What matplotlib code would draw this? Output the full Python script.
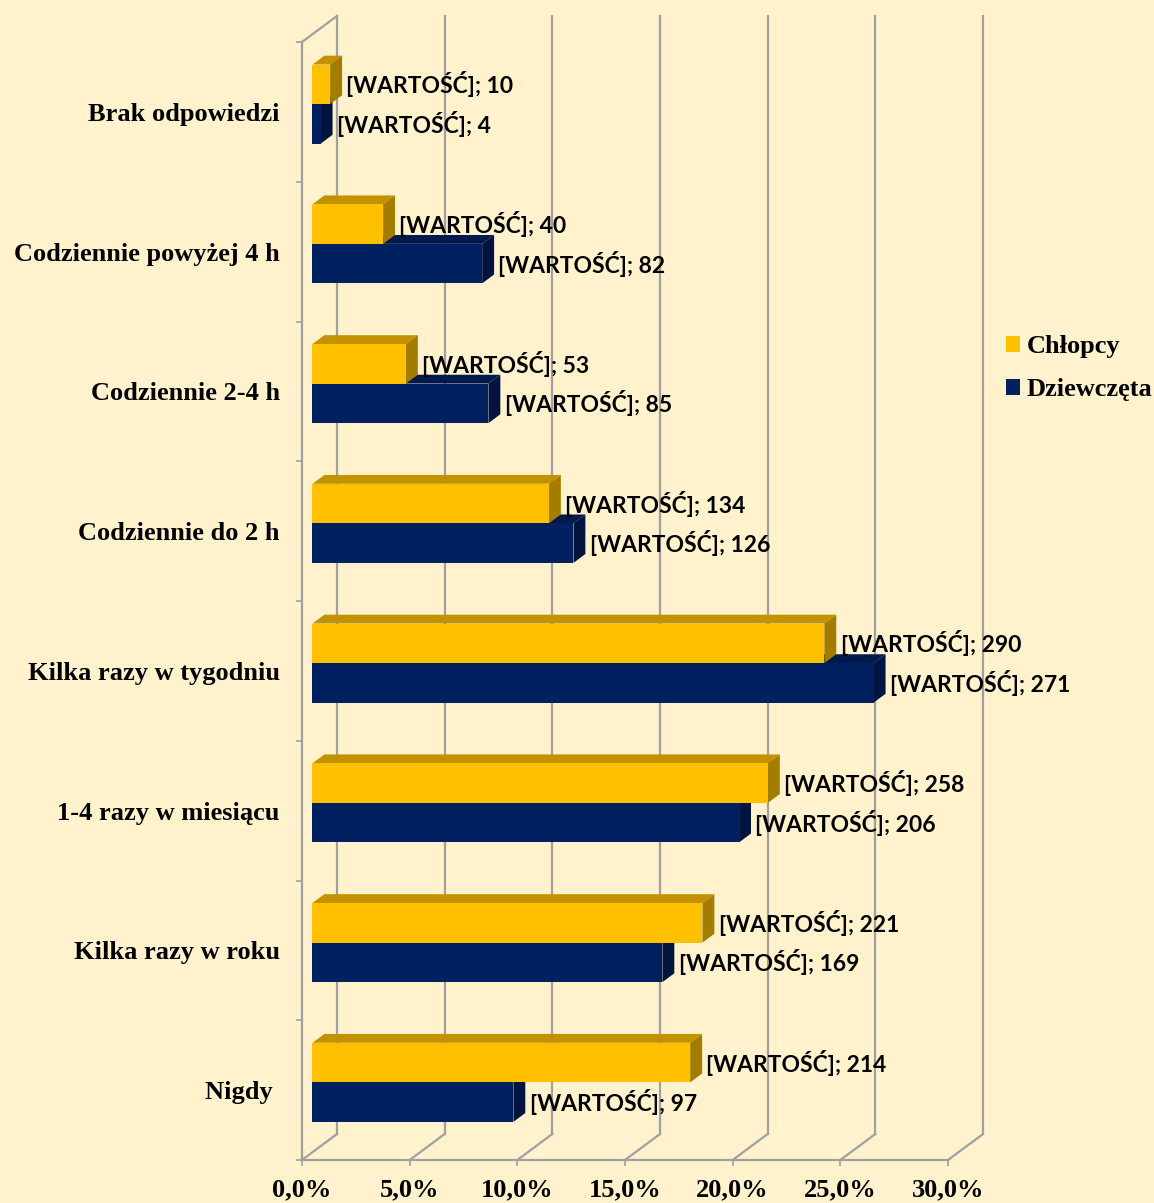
import numpy as np
import matplotlib
matplotlib.use('Agg')
import matplotlib.pyplot as plt
from matplotlib.patches import Polygon, Patch

# data (top to bottom as in the chart)
categories = ['Brak odpowiedzi', 'Codziennie powyżej 4 h', 'Codziennie 2-4 h',
              'Codziennie do 2 h', 'Kilka razy w tygodniu', '1-4 razy w miesiącu',
              'Kilka razy w roku', 'Nigdy ']
boys_pct = [0.82, 3.28, 4.34, 10.98, 23.77, 21.15, 18.11, 17.54]
girls_pct = [0.38, 7.88, 8.17, 12.12, 26.06, 19.81, 16.25, 9.33]
boys_n = [10, 40, 53, 134, 290, 258, 221, 214]
girls_n = [4, 82, 85, 126, 271, 206, 169, 97]
xticks = [0, 5, 10, 15, 20, 25, 30]
xticklabels = ['0,0%', '5,0%', '10,0%', '15,0%', '20,0%', '25,0%', '30,0%']

bg = '#FFF2CC'
grid_c = '#A0A0A0'
yel = ('#FFC000', '#C39200', '#A47C00')   # front, top, side
nav = ('#002060', '#001A50', '#001440')

# oblique depth offset (data units) and bar depth range
DX, DY = 1.625, 0.186
d0, d1 = 0.30, 0.64
h = 0.283

def proj(v, y, d):
    return (v + d * DX, y + d * DY)

fig = plt.figure(figsize=(11.54, 12.03), dpi=100, facecolor=bg)
ax = fig.add_axes([302/1154, 1 - 1160/1203, 646/1154, 1118/1203])
ax.set_facecolor('none')
n = len(categories)
ax.set_xlim(0, 30)
ax.set_ylim(-0.5, n - 0.5)

# back wall gridlines and floor diagonals
for v in xticks:
    x0, y0 = proj(v, -0.5, 1)
    x1, y1 = proj(v, n - 0.5, 1)
    ax.plot([x0, x1], [y0, y1], color=grid_c, lw=1.6, clip_on=False, zorder=1)
    ax.plot([v, x0], [-0.5, y0], color=grid_c, lw=1.6, clip_on=False, zorder=1)
tx, ty = proj(0, n - 0.5, 1)
ax.plot([0, tx], [n - 0.5, ty], color=grid_c, lw=1.6, clip_on=False, zorder=1)


def bar3d(v, yb, yt, cols, z):
    front = [proj(0, yb, d0), proj(v, yb, d0), proj(v, yt, d0), proj(0, yt, d0)]
    top = [proj(0, yt, d0), proj(v, yt, d0), proj(v, yt, d1), proj(0, yt, d1)]
    side = [proj(v, yb, d0), proj(v, yb, d1), proj(v, yt, d1), proj(v, yt, d0)]
    for pts, c in ((top, cols[1]), (side, cols[2]), (front, cols[0])):
        ax.add_patch(Polygon(pts, closed=True, facecolor=c, edgecolor='none',
                             clip_on=False, zorder=z))


lab_font = dict(family=['Lato', 'DejaVu Sans'], weight='bold', fontsize=16.5)
for i in range(n):
    c = n - 1 - i
    bar3d(girls_pct[i], c - h, c, nav, 3 + i * 0.01)
    bar3d(boys_pct[i], c, c + h, yel, 4 + i * 0.01)
    ax.text(girls_pct[i] + d1 * DX + 0.2, c - h / 2 + d0 * DY,
            '[WARTOŚĆ]; {}'.format(girls_n[i]), va='center', ha='left',
            zorder=6, **lab_font)
    ax.text(boys_pct[i] + d1 * DX + 0.2, c + h / 2 + d0 * DY,
            '[WARTOŚĆ]; {}'.format(boys_n[i]), va='center', ha='left',
            zorder=6, **lab_font)

# axes styling
for s in ('top', 'right'):
    ax.spines[s].set_visible(False)
for s in ('left', 'bottom'):
    ax.spines[s].set_color(grid_c)
    ax.spines[s].set_linewidth(1.6)
    ax.spines[s].set_zorder(2)

serif = dict(family='Liberation Serif', weight='bold', size=19)
ax.set_yticks(range(n))
ax.set_yticklabels(categories[::-1], fontdict=serif)
ax.set_yticks(np.arange(-0.5, n, 1), minor=True)
ax.tick_params(axis='y', which='major', length=0, pad=16)
ax.tick_params(axis='y', which='minor', length=4, color=grid_c, width=1.2)
ax.set_xticks(xticks)
ax.set_xticklabels(xticklabels, fontdict=serif)
ax.tick_params(axis='x', length=4, color=grid_c, width=1.2, pad=9)

handles = [Patch(facecolor=yel[0], label='Chłopcy'),
           Patch(facecolor=nav[0], label='Dziewczęta')]
fig.legend(handles=handles, loc='center left', bbox_to_anchor=(982/1154, 1 - 368/1203),
           frameon=False, prop=dict(family='Liberation Serif', weight='bold', size=19),
           handlelength=0.55, handleheight=0.55, handletextpad=0.25, labelspacing=0.75)

fig.savefig('out.png', dpi=100, facecolor=bg)
